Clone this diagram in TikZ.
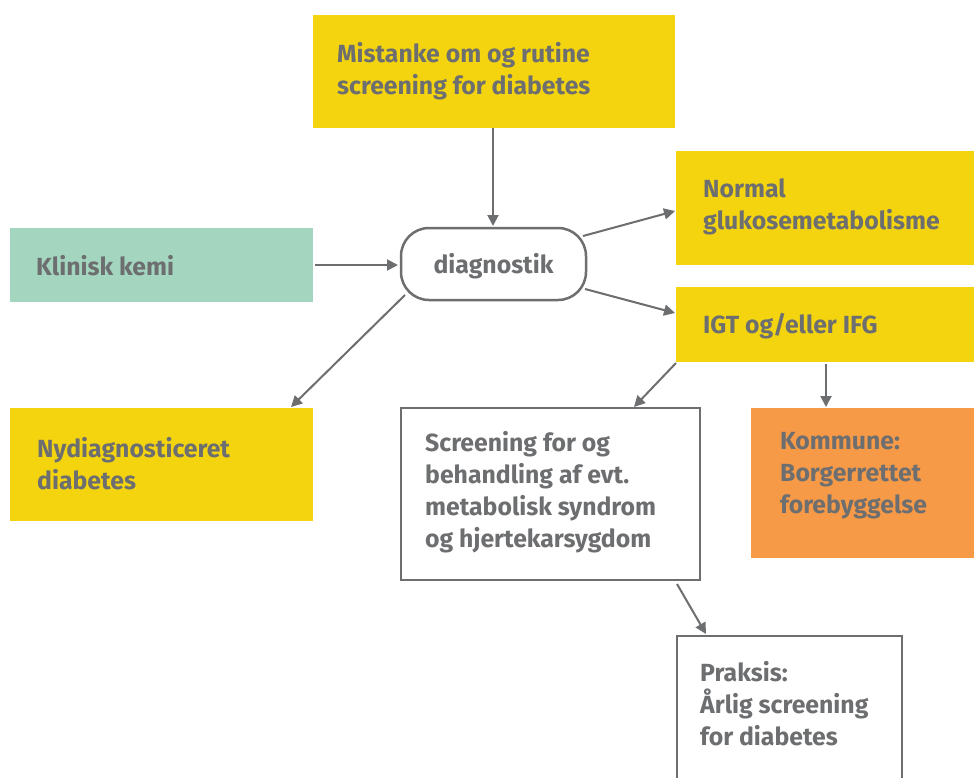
\documentclass[tikz,border=0pt]{standalone}
\usepackage{fontspec}
\setmainfont{Fira Sans}
\usetikzlibrary{arrows.meta,calc}
\definecolor{tg}{HTML}{6D6E70}
\definecolor{yel}{HTML}{F4D40F}
\definecolor{grn}{HTML}{A3D5BF}
\definecolor{org}{HTML}{F79A48}
\tikzset{
  box/.style={rectangle,inner sep=0pt,outer sep=0pt,anchor=north west},
  txt/.style={anchor=west,align=left,inner sep=0pt,text=tg,yshift=-2pt,font=\fontsize{24.8}{32}\selectfont\bfseries},
  conn/.style={draw=tg,line width=2pt,-{Triangle[length=11pt,width=11pt]}},
  outl/.style={draw=tg,line width=2.5pt,fill=white}
}
\begin{document}
\begin{tikzpicture}[x=1pt,y=-1pt]
\useasboundingbox (0,0) rectangle (974,778);
\fill[white] (0,0) rectangle (974,778);
% boxes
\node[box,fill=yel,minimum width=362pt,minimum height=113pt] (top) at (313,15) {};
\node[txt] (toptxt) at (337,69) {Mistanke om og rutine\\screening for diabetes};

\node[box,fill=grn,minimum width=303pt,minimum height=74pt] (klin) at (10,228) {};
\node[txt] (klintxt) at (36,264) {Klinisk kemi};

\node[box,outl,rounded corners=28pt,minimum width=185pt,minimum height=72pt] (diag) at (401,228) {};
\node[txt,anchor=center] (diagtxt) at (493.5,264) {diagnostik};

\node[box,fill=yel,minimum width=298pt,minimum height=114pt] (norm) at (676,151) {};
\node[txt] (normtxt) at (703,205) {Normal\\glukosemetabolisme};

\node[box,fill=yel,minimum width=298pt,minimum height=75pt] (igt) at (676,287) {};
\node[txt] (igttxt) at (703,324) {IGT og/eller IFG};

\node[box,fill=yel,minimum width=303pt,minimum height=113pt] (nyd) at (10,408) {};
\node[txt] (nydtxt) at (37,462) {Nydiagnosticeret\\diabetes};

\node[box,outl,minimum width=299pt,minimum height=172pt] (scr) at (401,408) {};
\node[txt] (scrtxt) at (425,490.5) {Screening for og\\behandling af evt.\\metabolisk syndrom\\og hjertekarsygdom};

\node[box,fill=org,minimum width=223pt,minimum height=150pt] (kom) at (751,408) {};
\node[txt] (komtxt) at (780,474) {Kommune:\\Borgerrettet\\forebyggelse};

\node[box,outl,minimum width=225pt,minimum height=160pt] (prak) at (677,636) {};
\node[txt] (praktxt) at (700,702) {Praksis:\\Årlig screening\\for diabetes};

% connectors
\draw[conn] ([xshift=-1pt]top.south) -- ([yshift=2pt]diag.north -| {$(top.south)+(-1pt,0)$});
\draw[conn] ([xshift=2pt]klin.east) -- ([xshift=-3pt]diag.west |- klin.east);
\draw[conn] ([xshift=-3pt,yshift=-8pt]diag.north east) -- ([xshift=-1pt,yshift=-60pt]norm.north west);
\draw[conn] ([xshift=-1pt,yshift=11pt]diag.south east) -- ([xshift=-1pt,yshift=-26pt]igt.north west);
\draw[conn] ([xshift=4pt,yshift=5pt]diag.south west) -- ([xshift=-22pt,yshift=1pt]nyd.north east);
\draw[conn] ([yshift=-1pt]igt.south west) -- ([xshift=-66pt,yshift=1pt]scr.north east);
\draw[conn] ([xshift=150pt,yshift=-2pt]igt.south west) -- ([xshift=75pt,yshift=1pt]kom.north west);
\draw[conn] ([xshift=-23pt,yshift=-4pt]scr.south east) -- ([xshift=29pt,yshift=2pt]prak.north west);
\end{tikzpicture}
\end{document}
